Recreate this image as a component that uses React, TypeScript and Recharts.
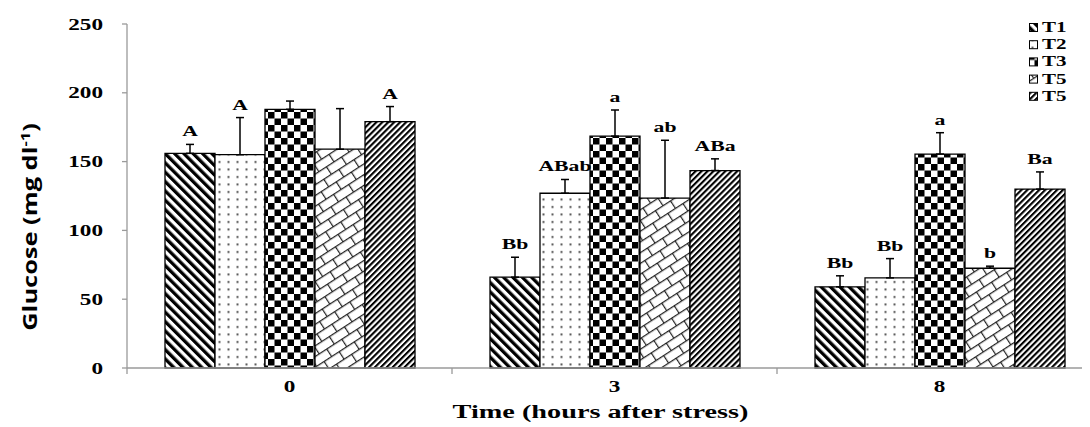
import React from 'react';
import { BarChart, Bar, XAxis, YAxis, ErrorBar, LabelList, Legend } from 'recharts';

const categories = ['0', '3', '8'];
const seriesNames = ['T1', 'T2', 'T3', 'T5', 'T5'];

const t1Values = [156, 66, 59];
const t2Values = [155, 127, 65.5];
const t3Values = [188, 168.5, 155.5];
const t4Values = [159, 123.5, 72.5];
const t5Values = [179, 143.5, 130];

const t1Errors = [6.5, 14.5, 8];
const t2Errors = [27, 10, 14];
const t3Errors = [6, 19, 15.5];
const t4Errors = [29.5, 42, 1.5];
const t5Errors = [11, 8.5, 12.5];

const t1Letters = ['A', 'Bb', 'Bb'];
const t2Letters = ['A', 'ABab', 'Bb'];
const t3Letters = ['', 'a', 'a'];
const t4Letters = ['', 'ab', 'b'];
const t5Letters = ['A', 'ABa', 'Ba'];

const yTicks = [0, 50, 100, 150, 200, 250];

const series = [
  { key: 't1', name: seriesNames[0], values: t1Values, errors: t1Errors, letters: t1Letters, fill: 'url(#pT1)' },
  { key: 't2', name: seriesNames[1], values: t2Values, errors: t2Errors, letters: t2Letters, fill: 'url(#pT2)' },
  { key: 't3', name: seriesNames[2], values: t3Values, errors: t3Errors, letters: t3Letters, fill: 'url(#pT3)' },
  { key: 't4', name: seriesNames[3], values: t4Values, errors: t4Errors, letters: t4Letters, fill: 'url(#pT4)' },
  { key: 't5', name: seriesNames[4], values: t5Values, errors: t5Errors, letters: t5Letters, fill: 'url(#pT5)' },
];

const data = categories.map((c, i) => {
  const row: any = { cat: c };
  series.forEach((s) => {
    row[s.key] = s.values[i];
    row[s.key + 'Err'] = [0, s.errors[i]];
    row[s.key + 'Lbl'] = s.letters[i];
  });
  return row;
});

const SERIF = "'Liberation Serif', 'Times New Roman', serif";
const GRAY = '#9a9a9a';
const CHART_W = 1100;
const MARGIN_R = 6;
const Y_W = 119;

function SText({ x, y, size, sx = 1.45, anchor = 'middle', children }: any) {
  return (
    <g transform={`translate(${x},${y}) scale(${sx},1)`}>
      <text x={0} y={0} textAnchor={anchor} fontFamily={SERIF} fontWeight="bold" fontSize={size} fill="#000">
        {children}
      </text>
    </g>
  );
}

const Patterns = () => (
  <defs>
    <pattern id="pT1" width="6.6" height="6.6" patternUnits="userSpaceOnUse" patternTransform="rotate(-45)">
      <rect x="0" y="0" width="6.6" height="6.6" fill="#fff" />
      <rect x="0" y="0" width="3.3" height="6.6" fill="#000" />
    </pattern>
    <pattern id="pT2" width="9" height="7.5" patternUnits="userSpaceOnUse">
      <rect x="0" y="0" width="9" height="7.5" fill="#fff" />
      <rect x="3.5" y="3" width="2" height="2" fill="#555" />
    </pattern>
    <pattern id="pT3" width="13" height="13" patternUnits="userSpaceOnUse">
      <rect x="0" y="0" width="13" height="13" fill="#fff" />
      <rect x="0" y="0" width="6.5" height="6.5" fill="#000" />
      <rect x="6.5" y="6.5" width="6.5" height="6.5" fill="#000" />
    </pattern>
    <pattern id="pT4" width="18" height="18" patternUnits="userSpaceOnUse" patternTransform="rotate(-33)">
      <rect x="0" y="0" width="18" height="18" fill="#fff" />
      <path d="M0 0.6 H18 M0 9.6 H18 M0.6 0.6 V9.6 M9.6 9.6 V18.6" stroke="#222" strokeWidth="1.2" fill="none" />
    </pattern>
    <pattern id="pT5" width="4.2" height="4.2" patternUnits="userSpaceOnUse" patternTransform="rotate(45)">
      <rect x="0" y="0" width="4.2" height="4.2" fill="#fff" />
      <rect x="0" y="0" width="2.1" height="4.2" fill="#000" />
    </pattern>
  </defs>
);

const YTick = (props: any) => {
  const { x, y, payload } = props;
  return <SText x={x} y={y + 5.5} size={16} anchor="end">{payload.value}</SText>;
};

const XTick = (props: any) => {
  const { x, y, payload, index, visibleTicksCount } = props;
  const count = visibleTicksCount || categories.length;
  const axisW = typeof props.width === 'number' && props.width > 0 ? props.width : CHART_W - MARGIN_R - Y_W;
  const half = axisW / count / 2;
  const top = y - 8;
  return (
    <g>
      <line x1={x - half} x2={x - half} y1={top} y2={top + 6} stroke={GRAY} strokeWidth={1.3} />
      {index === count - 1 ? (
        <line x1={x + half} x2={x + half} y1={top} y2={top + 6} stroke={GRAY} strokeWidth={1.3} />
      ) : null}
      <SText x={x} y={y + 16} size={16}>{payload.value}</SText>
    </g>
  );
};

const makeLetter = (s: any) => (props: any) => {
  const { x, y, width, height, index, value } = props;
  if (!value) return null;
  const v = s.values[index];
  const e = s.errors[index];
  const pxPerUnit = Number(height) / v;
  const top = Number(y) - e * pxPerUnit;
  return <SText x={Number(x) + Number(width) / 2} y={top - 8} size={15}>{value}</SText>;
};

const LegendBox = () => (
  <svg width={70} height={92} style={{ display: 'block' }}>
    {series.map((s, i) => (
      <g key={i} transform={`translate(0, ${i * 17.2})`}>
        <rect x={1.5} y={4.5} width={8} height={8} fill={s.fill} stroke="#000" strokeWidth={1} />
        <SText x={14} y={13} size={14} sx={1.5} anchor="start">{s.name}</SText>
      </g>
    ))}
  </svg>
);

const XTitle = (p: any) => {
  const vb = p.viewBox || { x: 0, y: 0, width: 0 };
  return <SText x={vb.x + vb.width / 2 - 14} y={vb.y + 50} size={19.5}>Time (hours after stress)</SText>;
};

const YTitle = (p: any) => {
  const vb = p.viewBox || { x: 0, y: 0, height: 0 };
  const cx = 22;
  const cy = vb.y + vb.height / 2 + 31;
  return (
    <g transform={`translate(${cx},${cy}) rotate(-90) scale(1.27,1)`}>
      <text x={0} y={0} dy="0.35em" textAnchor="middle" fontFamily="'Open Sans', 'Noto Sans', sans-serif" fontWeight="bold" fontSize={20} fill="#000">
        Glucose (mg dl<tspan fontSize={13} dy="-7">-1</tspan><tspan dy="7">)</tspan>
      </text>
    </g>
  );
};

export default function App() {
  return (
    <div style={{ width: 1082, height: 419, overflow: 'hidden', position: 'relative' }}>
      <BarChart
        width={CHART_W}
        height={419}
        data={data}
        margin={{ top: 16, right: MARGIN_R, bottom: 0, left: 0 }}
        barGap={0}
        barSize={50}
      >
        <Patterns />
        <XAxis
          dataKey="cat"
          height={59}
          axisLine={{ stroke: GRAY, strokeWidth: 1.3 }}
          tickLine={false}
          tick={XTick}
          interval={0}
          label={{ content: XTitle }}
        />
        <YAxis
          domain={[0, 250]}
          ticks={yTicks}
          interval={0}
          width={Y_W}
          axisLine={{ stroke: GRAY, strokeWidth: 1.3 }}
          tickLine={{ stroke: GRAY, strokeWidth: 1.3 }}
          tickSize={5}
          tickMargin={19}
          tick={YTick}
          label={{ content: YTitle }}
        />
        <Legend
          layout="vertical"
          align="center"
          verticalAlign="middle"
          wrapperStyle={{ left: 1020, top: 11, width: 70 }}
          content={LegendBox}
        />
        {series.map((s) => (
          <Bar
            key={s.key}
            dataKey={s.key}
            name={s.name}
            fill={s.fill}
            stroke="#000"
            strokeWidth={1.3}
            isAnimationActive={false}
          >
            <ErrorBar dataKey={s.key + 'Err'} width={4} stroke="#000" strokeWidth={1.5} direction="y" />
            <LabelList dataKey={s.key + 'Lbl'} content={makeLetter(s)} />
          </Bar>
        ))}
      </BarChart>
    </div>
  );
}
